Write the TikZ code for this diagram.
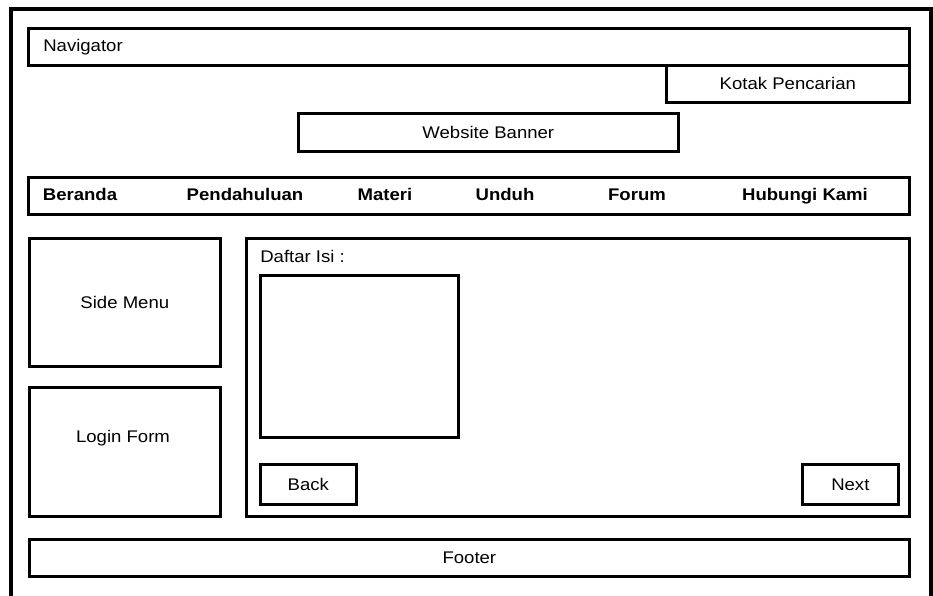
\documentclass[tikz,border=0pt]{standalone}
\usepackage{fontspec}
\setmainfont{Liberation Sans}[FakeStretch=1.1]
\usepackage{tikz}
\usetikzlibrary{positioning}

\begin{document}
\begin{tikzpicture}[x=0.025cm,y=-0.025cm,
  box/.style={draw,line width=1.9pt,inner sep=0pt,anchor=north west},
  wh/.style 2 args={minimum width=#1*0.025cm,minimum height=#2*0.025cm},
  lbl/.style={inner sep=0pt},
  menu/.style={inner sep=0pt,anchor=base,font=\fontsize{12}{14}\selectfont\bfseries},
  every node/.append style={font=\fontsize{12}{14}\selectfont}]
\useasboundingbox (0,0) rectangle (933,596);
% page frame, bottom edge lies below the page
\draw[line width=2.8pt] (11,620) -- (11,9) -- (931,9) -- (931,620);
% header
\node[box,wh={881}{37}] (nav) at (27,27) {};
\node[lbl,anchor=west] (navlbl) at ([xshift=0.4cm]nav.west) {Navigator};
\node[box,wh={243}{37}] (cari) at (665,64) {Kotak Pencarian};
\node[box,wh={380}{38}] (banner) at (297,112) {Website Banner};
% menu bar
\node[box,wh={881}{37}] (bar) at (27,176) {};
\node[menu] (beranda) at (80,201) {Beranda};
\node[menu] (pendahuluan) at (245,201) {Pendahuluan};
\node[menu] (materi) at (385,201) {Materi};
\node[menu] (unduh) at (505,201) {Unduh};
\node[menu] (forum) at (637,201) {Forum};
\node[menu] (hubungi) at (805,201) {Hubungi Kami};
% left column
\node[box,wh={191}{128}] (side) at (28,237) {Side Menu};
\node[box,wh={191}{129}] (login) at (28,386) {};
\node[lbl] (loginlbl) at (123,438) {Login Form};
% content
\node[box,wh={663}{278}] (isi) at (245,237) {};
\node[lbl,anchor=west] (daftar) at (260,256) {Daftar Isi :};
\node[box,wh={198}{162}] (list) at (259,274) {};
\node[box,wh={96}{40}] (back) at (259,463) {Back};
\node[box,wh={96}{40}] (next) at (801,463) {Next};
% footer
\node[box,wh={880}{37}] (footer) at (28,538) {Footer};
\end{tikzpicture}
\end{document}
